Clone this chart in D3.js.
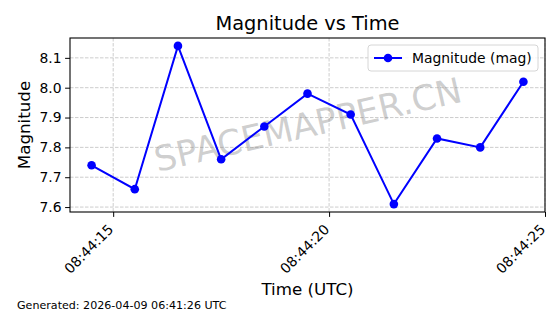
<!DOCTYPE html>
<html><head><meta charset="utf-8">
<script src="https://cdn.jsdelivr.net/npm/d3@7"></script>
<style>body{margin:0;background:#fff}svg{display:block;font-family:"DejaVu Sans",sans-serif}</style>
</head><body><svg id="c" width="560" height="314"></svg>
<script>
const times = ["08:44:14.5","08:44:15.5","08:44:16.5","08:44:17.5","08:44:18.5","08:44:19.5","08:44:20.5","08:44:21.5","08:44:22.5","08:44:23.5","08:44:24.5"];
const magnitudes = [7.74, 7.66, 8.14, 7.76, 7.87, 7.98, 7.91, 7.61, 7.83, 7.80, 8.02];
const yTicks = [7.6, 7.7, 7.8, 7.9, 8.0, 8.1];
const xTickTimes = ["08:44:15","08:44:20","08:44:25"];
const titleText = "Magnitude vs Time";
const xLabel = "Time (UTC)";
const yLabel = "Magnitude";
const legendLabel = "Magnitude (mag)";
const footer = "Generated: 2026-04-09 06:41:26 UTC";
const watermark = "SPACEMAPPER.CN";

const parse = s => new Date("2026-04-09T" + s + "Z");
const data = times.map((t,i)=>({t:parse(t), v:magnitudes[i]}));
const svg = d3.select("#c");
const L=70, R=545, T=38, B=212;

const tExt = d3.extent(data, d=>d.t);
const tPad = (tExt[1]-tExt[0])*0.05;
const x = d3.scaleUtc().domain([new Date(+tExt[0]-tPad), new Date(+tExt[1]+tPad)]).range([L,R]);
const vExt = d3.extent(magnitudes);
const vPad = (vExt[1]-vExt[0])*0.05;
const y = d3.scaleLinear().domain([vExt[0]-vPad, vExt[1]+vPad]).range([B,T]);

const xt = xTickTimes.map(parse);
// grid
const g = svg.append("g");
g.selectAll(".gx").data(xt).join("line").attr("x1",d=>x(d)).attr("x2",d=>x(d)).attr("y1",T).attr("y2",B)
 .attr("stroke","#b0b0b0").attr("stroke-opacity",0.7).attr("stroke-width",0.9).attr("stroke-dasharray","3.5,1.5");
g.selectAll(".gy").data(yTicks).join("line").attr("y1",d=>y(d)).attr("y2",d=>y(d)).attr("x1",L).attr("x2",R)
 .attr("stroke","#b0b0b0").attr("stroke-opacity",0.7).attr("stroke-width",0.9).attr("stroke-dasharray","3.5,1.5");

// watermark
svg.append("text").attr("x",308).attr("y",137).attr("text-anchor","middle")
 .attr("transform","rotate(-13,308,125)").attr("font-size",35).attr("fill","#808080").attr("fill-opacity",0.38).text(watermark);

// line
svg.append("path").datum(data).attr("fill","none").attr("stroke","#0000ff").attr("stroke-width",2)
 .attr("d", d3.line().x(d=>x(d.t)).y(d=>y(d.v)));
svg.selectAll(".pt").data(data).join("circle").attr("cx",d=>x(d.t)).attr("cy",d=>y(d.v)).attr("r",4.3).attr("fill","#0000ff");

// axes
const fmt = d3.utcFormat("%H:%M:%S");
const xa = svg.append("g").attr("transform",`translate(0,${B})`)
 .call(d3.axisBottom(x).tickValues(xt).tickFormat(fmt).tickSize(4.9).tickPadding(3.5));
xa.select(".domain").remove();
xa.selectAll("text").attr("font-size",13.9).attr("fill","#000").attr("text-anchor","end")
 .attr("transform","rotate(-45)").attr("dx","-12.5").attr("dy","5").attr("font-family","DejaVu Sans");
const ya = svg.append("g").attr("transform",`translate(${L},0)`)
 .call(d3.axisLeft(y).tickValues(yTicks).tickFormat(d3.format(".1f")).tickSize(4.9).tickPadding(3.5));
ya.select(".domain").remove();
ya.selectAll("text").attr("font-size",13.9).attr("fill","#000").attr("font-family","DejaVu Sans");
svg.selectAll(".tick line").attr("stroke","#000").attr("stroke-width",1);
svg.append("rect").attr("x",L).attr("y",T).attr("width",R-L).attr("height",B-T).attr("fill","none").attr("stroke","#000").attr("stroke-width",1.1);

// labels
svg.append("text").attr("x",(L+R)/2).attr("y",30).attr("text-anchor","middle").attr("font-size",19.4).text(titleText);
svg.append("text").attr("x",(L+R)/2).attr("y",295).attr("text-anchor","middle").attr("font-size",16.7).text(xLabel);
svg.append("text").attr("transform",`translate(30,${(T+B)/2}) rotate(-90)`).attr("text-anchor","middle").attr("font-size",16.7).text(yLabel);
svg.append("text").attr("x",17).attr("y",309).attr("font-size",11.1).text(footer);

// legend
const lg = svg.append("g");
lg.append("rect").attr("x",368).attr("y",45).attr("width",170).attr("height",26).attr("rx",3)
 .attr("fill","#fff").attr("fill-opacity",0.8).attr("stroke","#cccccc").attr("stroke-width",0.8);
lg.append("line").attr("x1",374).attr("x2",402).attr("y1",58).attr("y2",58).attr("stroke","#0000ff").attr("stroke-width",2);
lg.append("circle").attr("cx",388).attr("cy",58).attr("r",4.3).attr("fill","#0000ff");
lg.append("text").attr("x",412).attr("y",63).attr("font-size",13.9).text(legendLabel);
</script></body></html>
